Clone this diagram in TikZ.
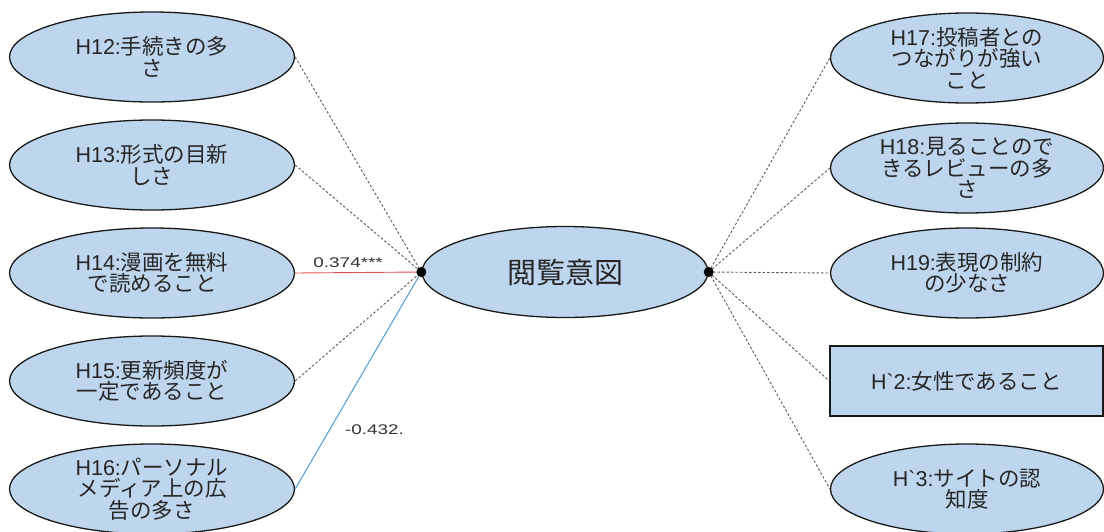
\documentclass[tikz,border=0pt]{standalone}
\usepackage{graphicx}
\usepackage{fontspec}
\setmainfont{Liberation Sans}[Ligatures=TeXOff]
\newfontfamily\jp{Noto Sans CJK JP}
\newcommand\hid[1]{{\rmfamily #1}}
\newcommand\wide[1]{\scalebox{1.35}[1]{#1}}
\usetikzlibrary{shapes.geometric}
\definecolor{ovalfill}{RGB}{190,214,237}
\definecolor{poslink}{RGB}{222,80,80}
\definecolor{neglink}{RGB}{80,155,212}
\begin{document}
\begin{tikzpicture}[x=1pt,y=-1pt,
  oval/.style={ellipse, draw=black!90, line width=1.3pt, fill=ovalfill,
    minimum width=285pt, minimum height=90pt, inner sep=0pt},
  roval/.style={oval, minimum width=273pt},
  rbox/.style={rectangle, draw=black!90, line width=1.3pt, fill=ovalfill,
    minimum width=273pt, minimum height=70pt, inner sep=0pt},
  lbl/.style={align=center, inner sep=0pt, text=black!85,
    font=\fontsize{21.5}{21.5}\selectfont\jp},
  link/.style={draw=black!65, line width=0.9pt, dash pattern=on 2.5pt off 2pt},
  coef/.style={font=\fontsize{14}{16}\selectfont, text=black!80, inner sep=0pt},
  dot/.style={circle, fill=black, inner sep=0pt, minimum size=10pt}]
\useasboundingbox (0,0) rectangle (1104,531);

% left-hand factors
\node[oval] (h12) at (152,57) {};
\node[oval] (h13) at (152,165) {};
\node[oval] (h14) at (152,273) {};
\node[oval] (h15) at (152,381) {};
\node[oval] (h16) at (152,489) {};
\node[lbl] (h12t) at (h12) {\hid{H12:}手続きの多\\さ};
\node[lbl] (h13t) at (h13) {\hid{H13:}形式の目新\\しさ};
\node[lbl] (h14t) at (h14) {\hid{H14:}漫画を無料\\で読めること};
\node[lbl] (h15t) at (h15) {\hid{H15:}更新頻度が\\一定であること};
\node[lbl] (h16t) at (h16) {\hid{H16:}パーソナル\\メディア上の広\\告の多さ};

% central outcome
\node[oval, minimum width=286pt, minimum height=91pt] (c) at (565,272) {};
\node[lbl, font=\fontsize{29}{31}\selectfont\jp] (ct) at (c) {閲覧意図};

% right-hand factors
\node[roval] (h17) at (967,58) {};
\node[roval] (h18) at (967,168) {};
\node[roval] (h19) at (967,273) {};
\node[rbox] (g2) at (966.5,381) {};
\node[roval] (g3) at (967,489) {};
\node[lbl] (h17t) at (h17) {\hid{H17:}投稿者との\\つながりが強い\\こと};
\node[lbl] (h18t) at (h18) {\hid{H18:}見ることので\\きるレビューの多\\さ};
\node[lbl] (h19t) at (h19) {\hid{H19:}表現の制約\\の少なさ};
\node[lbl] (g2t) at (g2) {\hid{H`2:}女性であること};
\node[lbl] (g3t) at (g3) {\hid{H`3:}サイトの認\\知度};

% path ends on the outcome
\coordinate (cw) at (c.west);
\coordinate (ce) at (c.east);

% paths
\draw[link] (h12.east) -- (cw);
\draw[link] (h13.east) -- (cw);
\draw[link] (h15.east) -- (cw);
\draw[poslink, line width=0.9pt] (h14.east) --
  node[coef, pos=0.42, anchor=base, yshift=5pt] {\wide{0.374***}} (cw);
\draw[neglink, line width=1pt] (h16.east) --
  node[coef, pos=0.249, anchor=base west, xshift=18pt] {\wide{-0.432.}} (cw);
\draw[link] (ce) -- (h17.west);
\draw[link] (ce) -- (h18.west);
\draw[link] (ce) -- (h19.west);
\draw[link] (ce) -- (g2.west);
\draw[link] (ce) -- (g3.west);

\node[dot] (dw) at (cw) {};
\node[dot] (de) at (ce) {};
\end{tikzpicture}
\end{document}
